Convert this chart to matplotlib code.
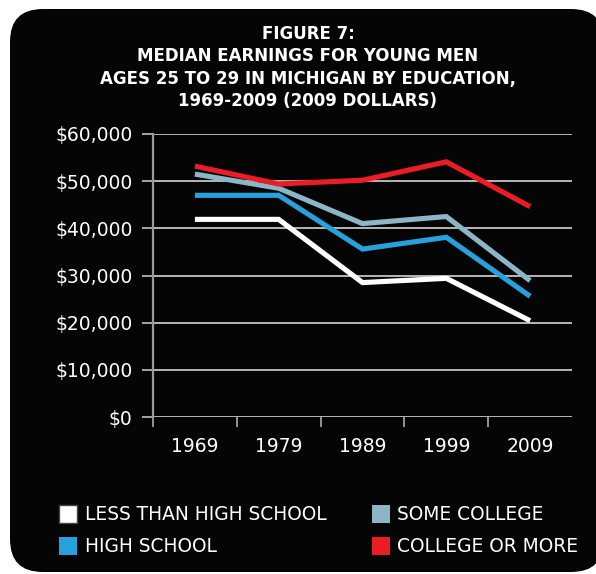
import matplotlib
matplotlib.use("Agg")
import matplotlib.pyplot as plt
from matplotlib.patches import FancyBboxPatch, Rectangle
from matplotlib.ticker import FuncFormatter, FixedLocator

# Median earnings, young men aged 25-29 in Michigan (2009 dollars)
years = ["1969", "1979", "1989", "1999", "2009"]
less_than_high_school = [41900, 41900, 28500, 29400, 20400]
high_school = [47000, 47000, 35600, 38100, 25600]
some_college = [51500, 48500, 41000, 42500, 28900]
college_or_more = [53200, 49400, 50200, 54100, 44600]

series_labels = ["LESS THAN HIGH SCHOOL", "HIGH SCHOOL", "SOME COLLEGE", "COLLEGE OR MORE"]
series_colors = ["#ffffff", "#27a1db", "#8cb6c6", "#ec1c24"]

title = ("FIGURE 7:\nMEDIAN EARNINGS FOR YOUNG MEN\n"
         "AGES 25 TO 29 IN MICHIGAN BY EDUCATION,\n1969-2009 (2009 DOLLARS)")

W, H = 596, 574
plt.rcParams["font.family"] = ["DejaVu Sans"]
fig = plt.figure(figsize=(W / 100, H / 100), dpi=100, facecolor="white")


def fx(px):
    return px / W


def fy(py):
    return 1 - py / H


# Black rounded panel behind everything
panel = FancyBboxPatch((fx(10), fy(572)), fx(604) - fx(10), fy(9) - fy(572),
                       boxstyle="round,pad=0,rounding_size=0.055",
                       transform=fig.transFigure, facecolor="#050505",
                       edgecolor="none", mutation_aspect=W / H, zorder=-5)
fig.patches.append(panel)

fig.text(fx(308), fy(67.5), title, ha="center", va="center", color="white",
         fontsize=12, fontweight="bold", linespacing=1.30)

ax = fig.add_axes([fx(153), fy(417), fx(572) - fx(153), fy(134) - fy(417)])
ax.set_zorder(2)
ax.set_facecolor("none")
x = list(range(len(years)))
for vals, col in zip([less_than_high_school, high_school, some_college, college_or_more],
                     series_colors):
    ax.plot(x, vals, color=col, lw=3.7, solid_capstyle="butt",
            solid_joinstyle="miter", zorder=3)

ax.set_xlim(-0.5, 4.5)
ax.set_ylim(0, 60000)
ax.set_yticks(range(0, 60001, 10000))
ax.yaxis.set_major_formatter(FuncFormatter(lambda v, p: f"${int(v):,}"))
ax.grid(axis="y", color="#e6e6e6", lw=1.1, zorder=1)
ax.tick_params(axis="y", colors="#d0d0d0", length=8, width=1.1, pad=6.6,
               labelsize=13.5, labelcolor="white")

ax.set_xticks(x)
ax.set_xticklabels(years)
ax.xaxis.set_minor_locator(FixedLocator([-0.5, 0.5, 1.5, 2.5, 3.5]))
ax.tick_params(axis="x", which="major", length=0, pad=14.5, labelsize=13.5,
               labelcolor="white")
ax.tick_params(axis="x", which="minor", length=7, width=1.3, colors="#a0a0a0")

for side in ["top", "right", "bottom"]:
    ax.spines[side].set_visible(False)
ax.spines["left"].set_color("#9a9a9a")
ax.spines["left"].set_linewidth(1.6)

# Legend: two columns of swatches with labels
legend_pos = [(59, 505, 85), (59, 537, 85), (372, 505, 397), (372, 537, 397)]
for (sx, sy, tx), lab, col in zip(legend_pos, series_labels, series_colors):
    edge = "#444444" if col == "#ffffff" else "none"
    fig.patches.append(Rectangle((fx(sx), fy(sy + 18)), fx(18), 18 / H,
                                 transform=fig.transFigure, facecolor=col,
                                 edgecolor=edge, lw=1.0, zorder=2))
    fig.text(fx(tx), fy(sy + 9), lab, ha="left", va="center", color="white",
             fontsize=13.4)

fig.savefig("out.png", dpi=100, facecolor="white")
